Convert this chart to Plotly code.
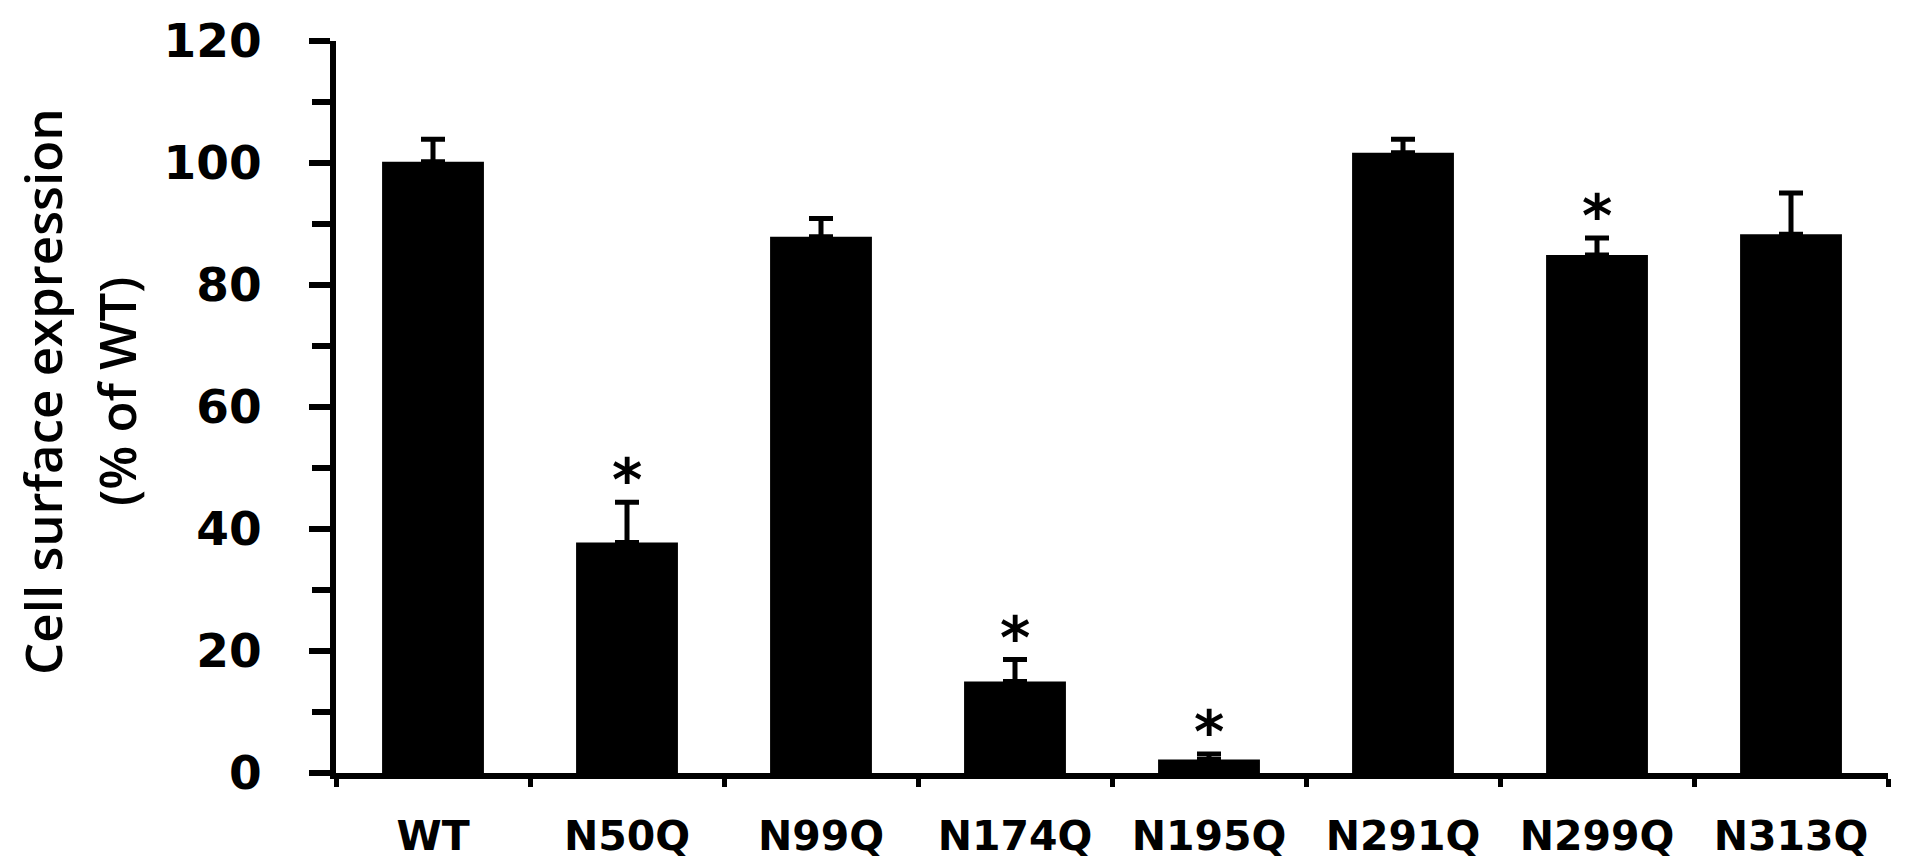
import plotly.graph_objects as go

categories = ["WT", "N50Q", "N99Q", "N174Q", "N195Q", "N291Q", "N299Q", "N313Q"]
values = [100.2, 37.8, 87.9, 15.0, 2.2, 101.7, 84.9, 88.3]
errors = [3.7, 6.6, 3.0, 3.6, 0.9, 2.2, 2.8, 6.8]
significant = [False, True, False, True, True, False, True, False]
y_ticks = [0, 20, 40, 60, 80, 100, 120]
y_title_lines = ["Cell surface expression", "(% of WT)"]

fig = go.Figure()
fig.add_trace(go.Bar(
    x=categories, y=values, width=0.525,
    marker=dict(color="black", line=dict(width=0)),
    error_y=dict(type="data", array=errors, arrayminus=[0] * len(errors),
                 symmetric=False, color="black", thickness=5, width=12),
))

annotations = []
for c, v, e, s in zip(categories, values, errors, significant):
    if s:
        annotations.append(dict(
            x=c, y=v + e, xref="x", yref="y", text="<b>*</b>", showarrow=False,
            yanchor="bottom", yshift=-14,
            font=dict(family="DejaVu Sans", size=58, color="black"),
        ))

annotations.append(dict(
    x=42, y=392, xref="paper", yref="paper", text=y_title_lines[0], showarrow=False,
    textangle=-90, xanchor="center", yanchor="middle",
    font=dict(family="Open Sans", size=51, color="black", weight=600),
))
annotations.append(dict(
    x=116, y=392, xref="paper", yref="paper", text=y_title_lines[1], showarrow=False,
    textangle=-90, xanchor="center", yanchor="middle",
    font=dict(family="Open Sans", size=51, color="black", weight=600),
))

W, H = 1912, 862
L, R, T, B = 336, 24, 41, 89
pw, ph = W - L - R, H - T - B
# convert pixel positions of title annotations into paper coordinates
for a in annotations[-2:]:
    a["x"] = (a["x"] - L) / pw
    a["y"] = (H - B - a["y"]) / ph

fig.update_layout(
    width=W, height=H, margin=dict(l=L, r=R, t=T, b=B, autoexpand=False),
    plot_bgcolor="white", paper_bgcolor="white", showlegend=False,
    annotations=annotations,
    xaxis=dict(
        type="category", range=[-0.5, 7.5], showline=True, linecolor="black", linewidth=6,
        ticks="outside", tickson="boundaries", ticklen=8, tickwidth=5, tickcolor="black",
        showgrid=False, zeroline=False, ticklabelstandoff=22,
        tickfont=dict(family="DejaVu Sans", size=41, color="black", weight="bold"),
    ),
    yaxis=dict(
        range=[0, 120], tickvals=y_ticks, showline=True, linecolor="black", linewidth=6,
        ticks="outside", ticklen=21, tickwidth=6, tickcolor="black",
        showgrid=False, zeroline=False, ticklabelstandoff=38,
        tickfont=dict(family="DejaVu Sans", size=47, color="black", weight="bold"),
        minor=dict(ticks="outside", ticklen=18, tickwidth=6, tickcolor="black",
                   dtick=10, tick0=0, showgrid=False),
    ),
)

fig.write_html("out.html", config={"displayModeBar": False},
               post_script="document.body.style.margin='0';document.body.style.overflow='hidden';")
